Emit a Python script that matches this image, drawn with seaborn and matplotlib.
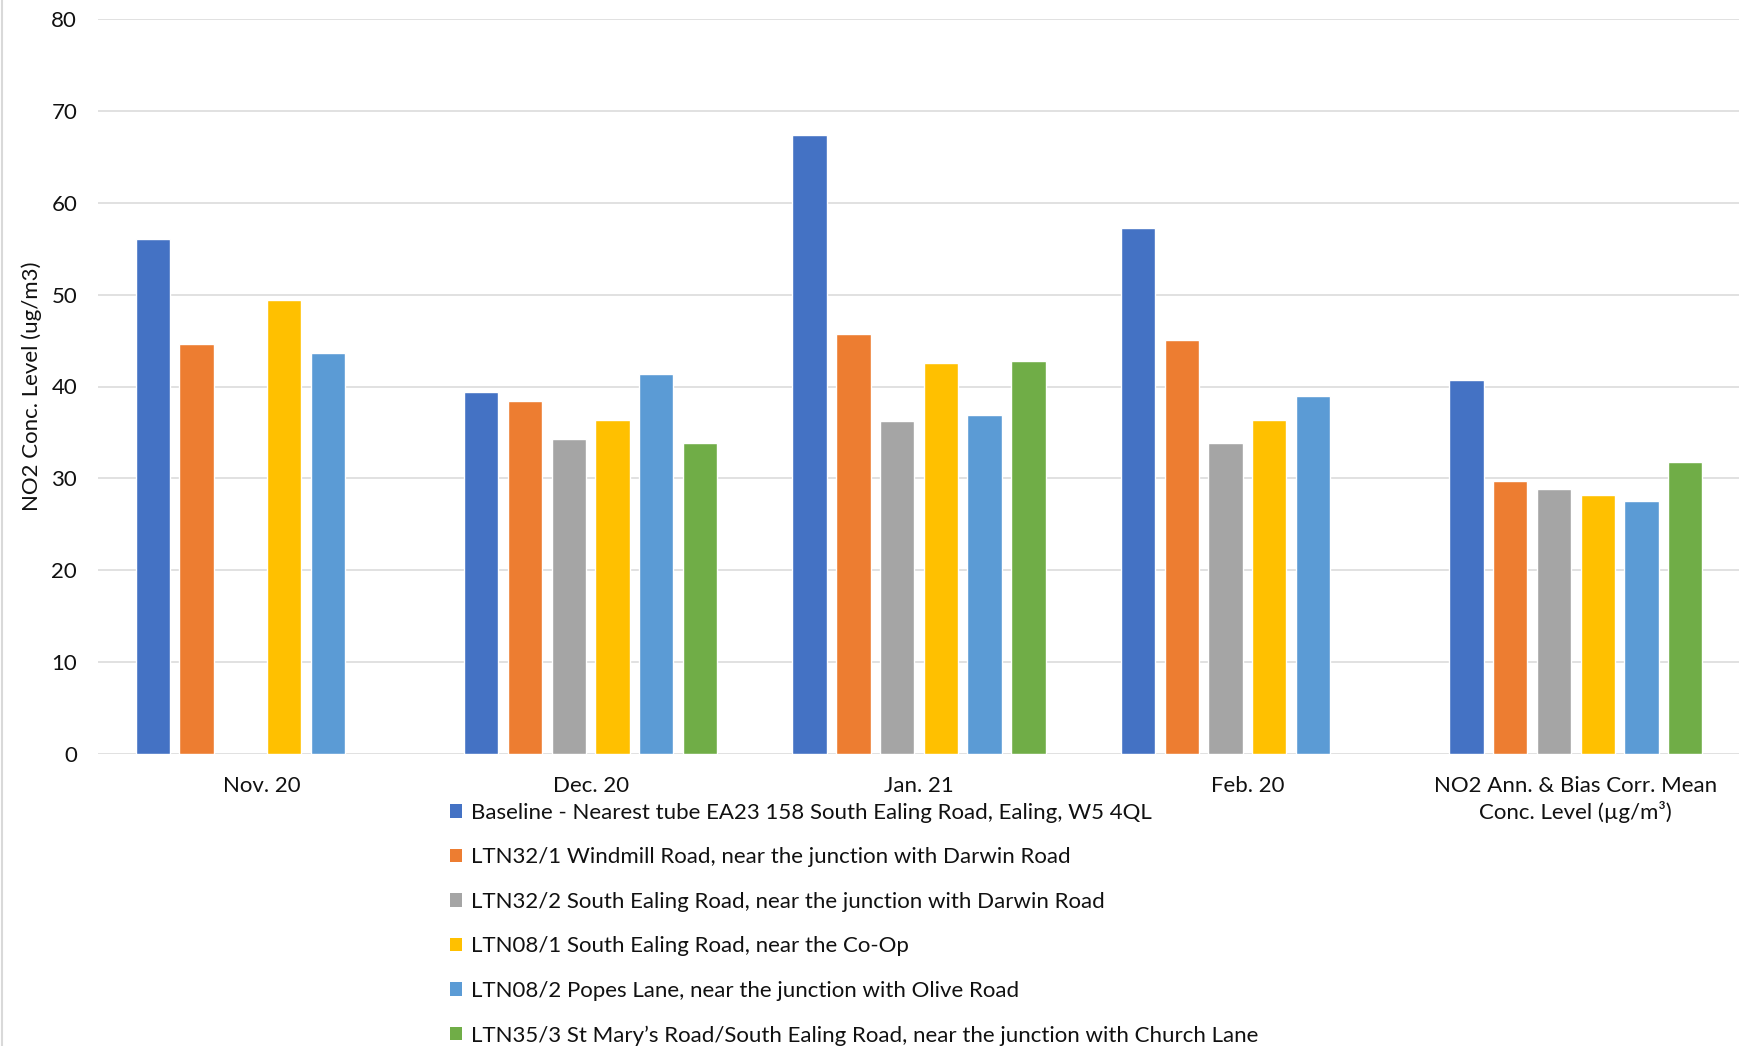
import matplotlib
matplotlib.use("Agg")
import matplotlib.pyplot as plt
from matplotlib.lines import Line2D
from matplotlib.patches import Patch
import seaborn as sns
import pandas as pd

# Monitoring periods (x categories)
periods = [
    "Nov. 20",
    "Dec. 20",
    "Jan. 21",
    "Feb. 20",
    "NO2 Ann. & Bias Corr. Mean\nConc. Level (µg/m³)",
]

# Diffusion tube sites (hue levels)
sites = [
    "Baseline - Nearest tube EA23 158 South Ealing Road, Ealing, W5 4QL",
    "LTN32/1 Windmill Road, near the junction with Darwin Road",
    "LTN32/2 South Ealing Road, near the junction with Darwin Road",
    "LTN08/1 South Ealing Road, near the Co-Op",
    "LTN08/2 Popes Lane, near the junction with Olive Road",
    "LTN35/3 St Mary\u2019s Road/South Ealing Road, near the junction with Church Lane",
]

# NO2 concentrations (ug/m3) per site, one value per period; None = no reading
baseline = [56.1, 39.4, 67.4, 57.3, 40.7]
ltn32_1 = [44.6, 38.4, 45.7, 45.1, 29.7]
ltn32_2 = [None, 34.3, 36.2, 33.8, 28.8]
ltn08_1 = [49.4, 36.4, 42.6, 36.3, 28.2]
ltn08_2 = [43.7, 41.4, 36.9, 39.0, 27.5]
ltn35_3 = [None, 33.8, 42.8, None, 31.8]

colors = ["#4472C4", "#ED7D31", "#A5A5A5", "#FFC000", "#5B9BD5", "#70AD47"]

series = [baseline, ltn32_1, ltn32_2, ltn08_1, ltn08_2, ltn35_3]
rows = []
for site, vals in zip(sites, series):
    for period, v in zip(periods, vals):
        if v is not None:
            rows.append({"period": period, "site": site, "value": v})
df = pd.DataFrame(rows)

sns.set_theme(style="white")
plt.rcParams["font.family"] = ["Lato", "DejaVu Sans"]
FS = 16

fig = plt.figure(figsize=(17.4, 10.46), dpi=100)
ax = fig.add_axes([98 / 1740, 1 - 754 / 1046, 1 - 98 / 1740, (754 - 19) / 1046])

sns.barplot(
    data=df, x="period", y="value", hue="site",
    order=periods, hue_order=sites, palette=colors,
    width=0.8, gap=0.215, errorbar=None, saturation=1,
    legend=False, ax=ax,
)

ax.set_ylim(0, 80)
ax.set_yticks(range(0, 81, 10))
ax.set_xlim(-0.5, len(periods) - 0.5)
ax.yaxis.grid(True, color="#d9d9d9", linewidth=1.1)
ax.set_axisbelow(True)
for s in ax.spines.values():
    s.set_visible(False)

ax.tick_params(axis="y", length=0, pad=15, labelsize=FS, labelcolor="#111111")
ax.tick_params(axis="x", length=0, pad=16, labelsize=FS, labelcolor="#111111")
for lbl in ax.get_xticklabels():
    lbl.set_linespacing(1.25)
ax.set_xlabel("")
ax.set_ylabel("NO2 Conc. Level (ug/m3)", fontsize=FS, color="#111111")
ax.yaxis.set_label_coords(-0.034, 0.5)

handles = [Patch(facecolor=c, edgecolor="none") for c in colors]
fig.legend(
    handles, sites, loc="upper left",
    bbox_to_anchor=(450 / 1740, 1 - 803 / 1046), bbox_transform=fig.transFigure,
    frameon=False, fontsize=FS, borderpad=0, borderaxespad=0,
    handlelength=0.55, handleheight=0.55, handletextpad=0.4,
    labelspacing=1.1, labelcolor="#111111",
)

# chart frame edge on the left
fig.add_artist(Line2D([0.0012, 0.0012], [0, 1], color="#d9d9d9", lw=1.5,
                      transform=fig.transFigure))

fig.savefig("out.png", dpi=100, facecolor="white")
